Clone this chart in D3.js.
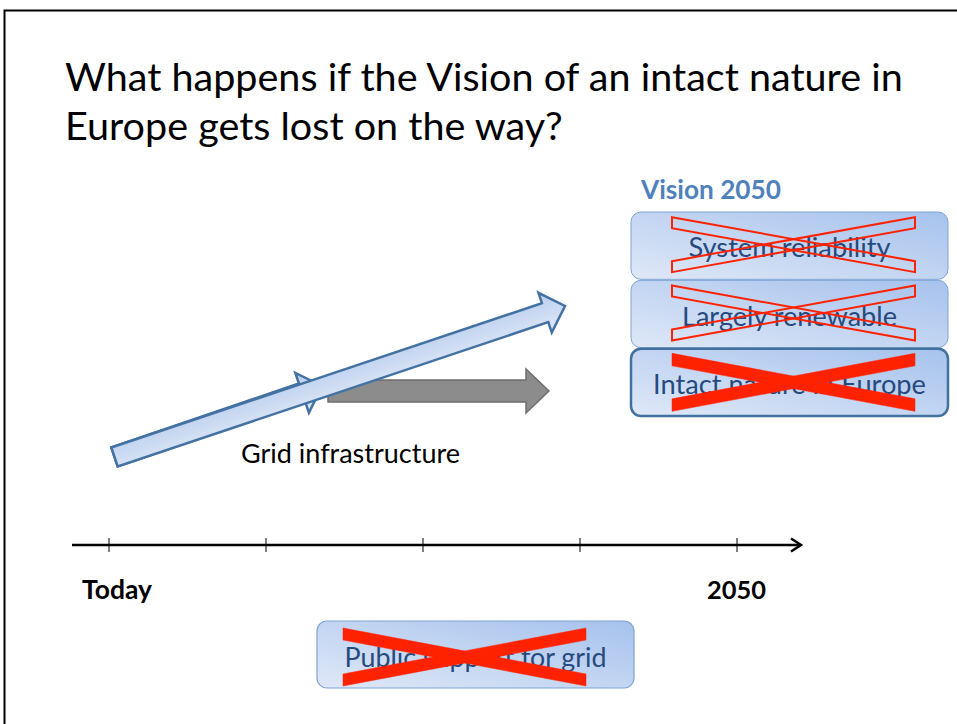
<!DOCTYPE html>
<html>
<head>
<meta charset="utf-8">
<script src="https://cdn.jsdelivr.net/npm/d3@7"></script>
<style>
  html, body { margin: 0; padding: 0; background: #fff; }
  svg { display: block; font-family: Lato, "Open Sans", "DejaVu Sans", sans-serif; }
</style>
</head>
<body>
<svg id="chart" width="957" height="724"></svg>
<script>
// --- data ---
var titleLines = ["What happens if the Vision of an intact nature in", "Europe gets lost on the way?"];
var visionTitle = "Vision 2050";
var visionItems = ["System reliability", "Largely renewable", "Intact nature in Europe"];
var crossStyles = ["outline", "outline", "solid"];
var milestones = [0, 1, 2, 3, 4];
var milestoneLabels = ["Today", "", "", "", "2050"];
var pathLabel = "Grid infrastructure";
var supportLabel = "Public support for grid";

var svg = d3.select("#chart");
var defs = svg.append("defs");

var boxGrad = defs.append("linearGradient").attr("id", "boxGrad")
    .attr("x1", 0).attr("y1", 1).attr("x2", 1).attr("y2", 0);
boxGrad.append("stop").attr("offset", "0%").attr("stop-color", "#dfe8f7");
boxGrad.append("stop").attr("offset", "100%").attr("stop-color", "#a6c2ed");

var arrowGrad = defs.append("linearGradient").attr("id", "arrowGrad")
    .attr("x1", 0).attr("y1", 0).attr("x2", 0).attr("y2", 1);
arrowGrad.append("stop").attr("offset", "0%").attr("stop-color", "#b8cdee");
arrowGrad.append("stop").attr("offset", "100%").attr("stop-color", "#e0e9f7");

// shrink/grow font so the text spans a given width
function fit(sel, width) {
    var fs = parseFloat(sel.attr("font-size"));
    var w = sel.node().getComputedTextLength();
    sel.attr("font-size", (fs * width / w).toFixed(2));
    return sel;
}

// frame
svg.append("path").attr("d", "M4.5,724 V10.5 H957")
    .attr("fill", "none").attr("stroke", "#000").attr("stroke-width", 2);

// title
var title = svg.append("g").attr("class", "title");
title.selectAll("text").data(titleLines).join("text")
    .attr("x", 65).attr("y", function(d, i) { return 91 + i * 49; })
    .attr("font-size", 36).attr("fill", "#000")
    .text(function(d) { return d; });
fit(title.select("text"), 838);
title.selectAll("text").attr("font-size", title.select("text").attr("font-size"));

// --- timeline ---
var x = d3.scaleLinear().domain(d3.extent(milestones)).range([109, 737]);
var axisY = 545;
var axis = svg.append("g").attr("transform", "translate(0," + axisY + ")");
axis.append("line").attr("x1", 72).attr("x2", 800)
    .attr("stroke", "#000").attr("stroke-width", 2.5);
axis.append("path").attr("d", "M791,-6.5 L801,0 L791,6.5")
    .attr("fill", "none").attr("stroke", "#000").attr("stroke-width", 2.5);
axis.selectAll("line.tick").data(milestones).join("line").attr("class", "tick")
    .attr("x1", x).attr("x2", x).attr("y1", -7).attr("y2", 7)
    .attr("stroke", "#000").attr("stroke-width", 1);
axis.selectAll("text.lbl").data(milestones.filter(function(d, i) { return milestoneLabels[i]; }))
    .join("text").attr("class", "lbl")
    .attr("x", function(d) { return d === 0 ? 82 : 707; })
    .attr("y", 54)
    .attr("font-size", 22).attr("font-weight", "bold")
    .text(function(d) { return milestoneLabels[d]; })
    .each(function(d) { fit(d3.select(this), d === 0 ? 70 : 59); });

// --- arrows ---
function arrowPath(len, bodyHalf, headHalf, headLen) {
    var b = len - headLen;
    return "M0," + (-bodyHalf) + " L" + b + "," + (-bodyHalf) + " L" + b + "," + (-headHalf) +
        " L" + len + ",0 L" + b + "," + headHalf + " L" + b + "," + bodyHalf + " L0," + bodyHalf + " Z";
}
function arrow(x0, y0, x1, y1, bodyHalf, headHalf, headLen) {
    var dx = x1 - x0, dy = y1 - y0;
    var len = Math.sqrt(dx * dx + dy * dy);
    var ang = Math.atan2(dy, dx) * 180 / Math.PI;
    return svg.append("path")
        .attr("transform", "translate(" + x0 + "," + y0 + ") rotate(" + ang + ")")
        .attr("d", arrowPath(len, bodyHalf, headHalf, headLen));
}

// hidden shorter blue arrow
arrow(114.5, 457, 322, 386, 10, 21, 21)
    .attr("fill", "url(#arrowGrad)").attr("stroke", "#4472a2").attr("stroke-width", 2.5)
    .attr("stroke-linejoin", "miter");
// gray arrow (what happens instead)
arrow(328, 391, 549, 391, 11, 22, 23)
    .attr("fill", "#8c8c8c").attr("stroke", "#6e6e6e").attr("stroke-width", 1.5);
// main blue arrow towards the vision
arrow(114.5, 457, 565, 306, 10, 21, 21)
    .attr("fill", "url(#arrowGrad)").attr("stroke", "#4472a2").attr("stroke-width", 2.5)
    .attr("stroke-linejoin", "miter");

fit(svg.append("text").attr("x", 241).attr("y", 463)
    .attr("font-size", 22).attr("fill", "#000").text(pathLabel), 219);

// --- crosses ---
function cross(g, cx, cy, halfW, halfH, thick, style) {
    var t = thick;
    var bars = [
        [[cx - halfW, cy - halfH], [cx + halfW, cy + halfH - t], [cx + halfW, cy + halfH], [cx - halfW, cy - halfH + t]],
        [[cx - halfW, cy + halfH - t], [cx + halfW, cy - halfH], [cx + halfW, cy - halfH + t], [cx - halfW, cy + halfH]]
    ];
    g.selectAll("polygon.x").data(bars).join("polygon").attr("class", "x")
        .attr("points", function(d) { return d.map(function(p) { return p.join(","); }).join(" "); })
        .attr("fill", style === "solid" ? "#ff2200" : "none")
        .attr("stroke", "#ff2200")
        .attr("stroke-width", style === "solid" ? 0.5 : 2)
        .attr("stroke-linejoin", "miter");
}

// --- vision boxes ---
svg.append("text").attr("x", 641).attr("y", 199)
    .attr("font-size", 22).attr("font-weight", "bold").attr("fill", "#4f81bd")
    .text(visionTitle).call(fit, 140);

var boxX0 = 631, boxX1 = 948;
var y = d3.scaleBand().domain(visionItems).range([212, 416]).paddingInner(0.015);
var textWidths = [202, 215, 273];
var boxes = svg.selectAll("g.vision").data(visionItems).join("g").attr("class", "vision");
boxes.append("rect")
    .attr("x", boxX0).attr("y", function(d) { return y(d); })
    .attr("width", boxX1 - boxX0).attr("height", y.bandwidth())
    .attr("rx", 10).attr("ry", 10)
    .attr("fill", "url(#boxGrad)")
    .attr("stroke", function(d, i) { return crossStyles[i] === "solid" ? "#41719c" : "#7ea3d3"; })
    .attr("stroke-width", function(d, i) { return crossStyles[i] === "solid" ? 2.5 : 1; });
boxes.append("text")
    .attr("x", (boxX0 + boxX1) / 2).attr("y", function(d) { return y(d) + y.bandwidth() / 2 + 11.5; })
    .attr("text-anchor", "middle").attr("font-size", 22).attr("fill", "#264a7e")
    .text(function(d) { return d; })
    .each(function(d, i) { fit(d3.select(this), textWidths[i]); });
boxes.each(function(d, i) {
    var solid = crossStyles[i] === "solid";
    cross(d3.select(this).append("g"), 793.5, y(d) + y.bandwidth() / 2 - (solid ? 0 : 1),
        121.5, solid ? 29 : 27.5, solid ? 12.5 : 11, crossStyles[i]);
});

// --- public support box ---
var sup = svg.append("g");
sup.append("rect").attr("x", 317).attr("y", 621).attr("width", 317).attr("height", 67)
    .attr("rx", 10).attr("ry", 10)
    .attr("fill", "url(#boxGrad)").attr("stroke", "#7ea3d3").attr("stroke-width", 1.2);
sup.append("text").attr("x", 475.5).attr("y", 667).attr("text-anchor", "middle")
    .attr("font-size", 22).attr("fill", "#264a7e").text(supportLabel).call(fit, 262);
cross(sup.append("g"), 464.5, 657, 121.5, 29, 12, "solid");
</script>
</body>
</html>
